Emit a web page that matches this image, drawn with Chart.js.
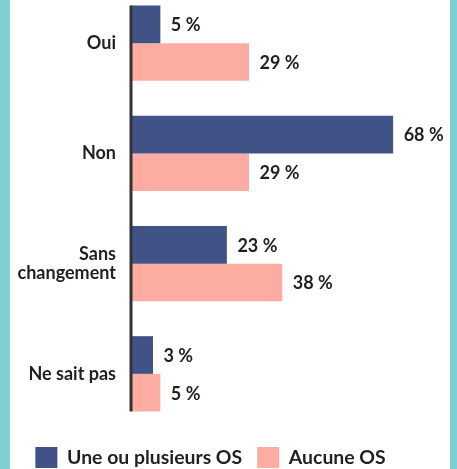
<!DOCTYPE html>
<html>
<head>
<meta charset="utf-8">
<script src="https://cdn.jsdelivr.net/npm/chart.js@4"></script>
<style>
  html, body { margin: 0; padding: 0; background: #ffffff; }
  #wrap { position: relative; width: 457px; height: 469px; overflow: hidden; background: #7fd0d5; }
  #inner { position: absolute; left: 10px; top: 0; width: 440px; height: 469px; background: #ffffff; }
  #c { position: absolute; left: -17px; top: -12px; }
</style>
</head>
<body>
<div id="wrap">
  <div id="inner"></div>
  <canvas id="c" width="467" height="490"></canvas>
</div>
<script>
const categories = [['Oui'], ['Non'], ['Sans', 'changement'], ['Ne sait pas']];
const seriesNames = ['Une ou plusieurs OS', 'Aucune OS'];
const valuesUne = [5, 68, 23, 3];
const valuesAucune = [29, 29, 38, 5];
const valueSuffix = ' %';

const blue = '#415386';
const pink = '#fdaca2';
const textColor = '#231f20';
const xMin = -2.95;
const xMax = 80.14;

const labelPlugin = {
  id: 'labelPlugin',
  afterDatasetsDraw(chart) {
    const { ctx, chartArea } = chart;
    ctx.save();
    ctx.font = 'bold 18px Lato';
    ctx.fillStyle = textColor;
    ctx.textBaseline = 'middle';
    ctx.textAlign = 'left';
    chart.data.datasets.forEach((ds, di) => {
      const meta = chart.getDatasetMeta(di);
      meta.data.forEach((bar, i) => {
        const p = bar.getProps(['x', 'y'], true);
        ctx.fillText(ds.data[i] + valueSuffix, p.x + 10.5, p.y + 1);
      });
    });
    const m0 = chart.getDatasetMeta(0);
    const mL = chart.getDatasetMeta(chart.data.datasets.length - 1);
    const first = m0.data[0].getProps(['y', 'height'], true);
    const last = mL.data[mL.data.length - 1].getProps(['y', 'height'], true);
    ctx.strokeStyle = '#333333';
    ctx.lineWidth = 3;
    ctx.beginPath();
    ctx.moveTo(chartArea.left, first.y - first.height / 2);
    ctx.lineTo(chartArea.left, last.y + last.height / 2);
    ctx.stroke();
    ctx.restore();
  }
};

new Chart(document.getElementById('c'), {
  type: 'bar',
  data: {
    labels: categories,
    datasets: [
      { label: seriesNames[0], data: valuesUne, backgroundColor: blue, base: xMin,
        barPercentage: 1, categoryPercentage: 0.684 },
      { label: seriesNames[1], data: valuesAucune, backgroundColor: pink, base: xMin,
        barPercentage: 1, categoryPercentage: 0.684 }
    ]
  },
  options: {
    indexAxis: 'y',
    responsive: false,
    animation: false,
    layout: { padding: { left: 0, top: 0, bottom: 0, right: 12 } },
    scales: {
      x: {
        min: xMin, max: xMax,
        ticks: { display: false },
        grid: { display: false, drawTicks: false },
        border: { display: false },
        afterFit(s) { s.height = 3; s.paddingLeft = 0; s.paddingRight = 0; s.paddingTop = 0; s.paddingBottom = 0; }
      },
      y: {
        grid: { display: false, drawTicks: false },
        border: { display: false },
        ticks: {
          padding: 15,
          color: textColor,
          font: { family: 'Lato', weight: 'bold', size: 18, lineHeight: 1.08 }
        },
        afterFit(s) { s.width = 148; s.paddingTop = 0; s.paddingBottom = 0; s.paddingLeft = 0; s.paddingRight = 0; }
      }
    },
    plugins: {
      tooltip: { enabled: false },
      legend: {
        position: 'bottom',
        align: 'center',
        labels: {
          boxWidth: 22,
          boxHeight: 21,
          padding: 15,
          color: textColor,
          font: { family: 'Lato', weight: 'bold', size: 19.4 }
        }
      }
    }
  },
  plugins: [labelPlugin]
});
</script>
</body>
</html>
